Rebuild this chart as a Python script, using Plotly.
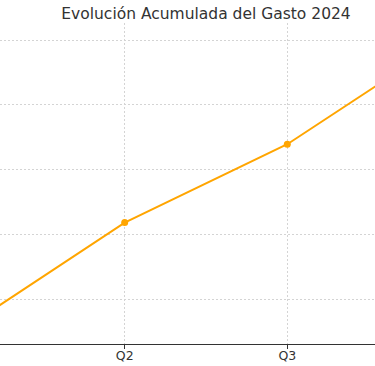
import plotly.graph_objects as go

quarters = ["Q1", "Q2", "Q3", "Q4"]
gasto_acumulado = [10400, 43600, 67800, 100800]
y_grid = [20000, 40000, 60000, 80000, 100000]

x_pos = list(range(len(quarters)))

fig = go.Figure()
fig.add_trace(go.Scatter(
    x=x_pos, y=gasto_acumulado, mode="lines+markers",
    line=dict(color="#FFA500", width=2),
    marker=dict(color="#FFA500", size=7),
    showlegend=False,
))

fig.update_layout(
    width=375, height=366,
    margin=dict(l=0, r=0, t=23, b=22),
    paper_bgcolor="white", plot_bgcolor="white",
    font=dict(family="DejaVu Sans", color="#333333"),
    title=dict(text="Evolución Acumulada del Gasto 2024",
               x=206/375, xref="paper", xanchor="center",
               y=1 - 14/366, yref="container", yanchor="middle",
               font=dict(size=15.5, color="#333333")),
)
fig.update_xaxes(
    range=[0.2331, 2.5394],
    tickvals=x_pos, ticktext=quarters,
    showgrid=True, gridcolor="#d4d4d4", griddash="2px,2px", gridwidth=0.8,
    showline=True, linecolor="#333333", linewidth=1,
    ticks="outside", ticklen=3.5, tickcolor="#333333",
    tickfont=dict(size=12.5, color="#333333"),
    ticklabelstandoff=-4,
    zeroline=False,
)
fig.update_yaxes(
    range=[6100, 105250],
    tickvals=y_grid,
    showticklabels=False,
    showgrid=True, gridcolor="#d4d4d4", griddash="2px,2px", gridwidth=0.8,
    showline=False, ticks="", zeroline=False,
)

fig.write_html("out.html")
